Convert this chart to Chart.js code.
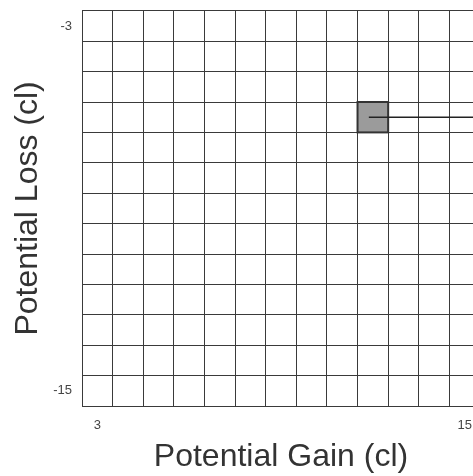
<!DOCTYPE html>
<html>
<head>
<meta charset="utf-8">
<script src="https://cdn.jsdelivr.net/npm/chart.js@4.4.1/dist/chart.umd.min.js"></script>
<style>
  html, body { margin: 0; padding: 0; background: #fff; overflow: hidden; }
  #wrap { width: 500px; height: 483px; margin-top: -7px; }
</style>
</head>
<body>
<div id="wrap"><canvas id="gridChart"></canvas></div>
<script>
// categories along each axis
const gainLabels = ['3', '4', '5', '6', '7', '8', '9', '10', '11', '12', '13', '14', '15'];
const lossLabels = ['-3', '-4', '-5', '-6', '-7', '-8', '-9', '-10', '-11', '-12', '-13', '-14', '-15'];

// highlighted cell (gain, loss)
const selectedGain = ['12'];
const selectedLoss = ['-6'];

const edgeLabel = (labels) => function (val, i) {
    return (i === 0 || i === labels.length - 1) ? labels[i] : '';
};

// draws the shaded cell and the line going off to the right
const cellPlugin = {
    id: 'cellPlugin',
    afterDatasetsDraw(chart) {
        const ctx = chart.ctx;
        const xs = chart.scales.x;
        const ys = chart.scales.y;
        const halfW = (xs.getPixelForValue(1) - xs.getPixelForValue(0)) / 2;
        const halfH = (ys.getPixelForValue(1) - ys.getPixelForValue(0)) / 2;

        selectedGain.forEach((g, k) => {
            const cx = xs.getPixelForValue(gainLabels.indexOf(g));
            const cy = ys.getPixelForValue(lossLabels.indexOf(selectedLoss[k]));

            ctx.save();
            ctx.fillStyle = '#9b9b9b';
            ctx.strokeStyle = '#333';
            ctx.lineWidth = 2;
            ctx.fillRect(cx - halfW, cy - halfH, halfW * 2, halfH * 2);
            ctx.strokeRect(cx - halfW, cy - halfH, halfW * 2, halfH * 2);

            ctx.beginPath();
            ctx.strokeStyle = '#222';
            ctx.lineWidth = 1.5;
            ctx.moveTo(cx - 4, cy);
            ctx.lineTo(chart.chartArea.right, cy);
            ctx.stroke();
            ctx.restore();
        });
    }
};

var ctx = document.getElementById('gridChart').getContext('2d');

var gridChart = new Chart(ctx, {
    type: 'line',
    data: {
        labels: gainLabels,
        datasets: []
    },
    options: {
        responsive: true,
        maintainAspectRatio: false,
        animation: false,
        layout: { padding: { top: 3, right: 20, left: 0, bottom: 0 } },
        plugins: { legend: { display: false }, tooltip: { enabled: false } },
        scales: {
            x: {
                type: 'category',
                labels: gainLabels,
                offset: true,
                grid: { offset: true, color: '#3a3a3a', lineWidth: 1, drawTicks: false },
                border: { color: '#3a3a3a' },
                ticks: {
                    autoSkip: false,
                    maxRotation: 0,
                    padding: 12,
                    color: '#444',
                    font: { family: 'Liberation Sans', size: 13 },
                    callback: edgeLabel(gainLabels)
                },
                title: {
                    display: true,
                    text: 'Potential Gain (cl)',
                    color: '#333',
                    font: { family: 'Liberation Sans', size: 32 },
                    padding: { top: 4, bottom: 0 }
                },
                afterFit: (s) => { s.height = 70; }
            },
            y: {
                type: 'category',
                labels: lossLabels,
                offset: true,
                grid: { offset: true, color: '#3a3a3a', lineWidth: 1, drawTicks: false },
                border: { color: '#3a3a3a' },
                ticks: {
                    autoSkip: false,
                    padding: 10,
                    color: '#444',
                    font: { family: 'Liberation Sans', size: 13 },
                    callback: edgeLabel(lossLabels)
                },
                title: {
                    display: true,
                    text: 'Potential Loss (cl)',
                    color: '#333',
                    font: { family: 'Liberation Sans', size: 32 },
                    padding: { top: 9, bottom: 0 }
                },
                afterFit: (s) => { s.width = 82; }
            }
        }
    },
    plugins: [cellPlugin]
});
</script>
</body>
</html>
